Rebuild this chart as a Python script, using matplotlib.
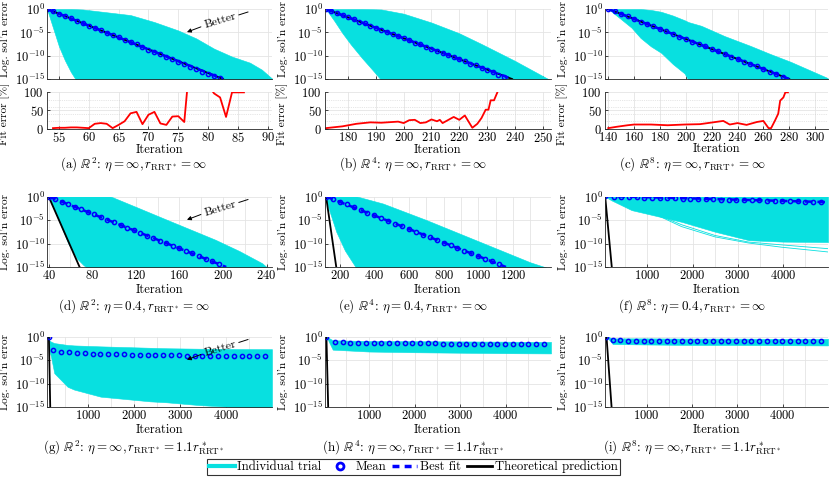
import numpy as np
import matplotlib
matplotlib.use("Agg")
import matplotlib.pyplot as plt
from matplotlib.lines import Line2D

plt.rcParams.update({
    "font.family": "serif",
    "font.serif": ["cmr10"],
    "mathtext.fontset": "cm",
    "axes.formatter.use_mathtext": True,
    "axes.unicode_minus": False,
})

CYAN = "#08E0E0"
W, H = 831, 479

# ---- data (log10 of solution error) ----
# row 1: eta = inf, r = inf
band_a_x = [53, 54, 55, 56, 57, 58, 59, 63, 67, 71, 75, 78, 81, 84, 87, 89, 90.7]
band_a_hi = [0, 0, 0, 0, 0, -0.05, -0.1, -0.7, -1.3, -2.8, -4.6, -6.3, -8.5, -10.2, -11.5, -13.0, -14.9]
band_a_lo = [0, -4.0, -8.0, -11.0, -13.5, -15.5, -16, -16, -16, -16, -16, -16, -16, -16, -16, -16, -16]
mean_a_x = [53, 54, 55, 56, 57, 58, 59, 60, 61, 62, 63, 64, 65, 66, 67, 68, 69, 70, 71, 72,
            73, 74, 75, 76, 77, 78, 79, 80, 81, 82]
mean_a = [0, -0.5, -1.0, -1.5, -2.0, -2.5, -3.0, -3.6, -4.1, -4.6, -5.1, -5.6, -6.1, -6.6, -7.1,
          -7.6, -8.1, -8.7, -9.2, -9.7, -10.2, -10.7, -11.3, -11.8, -12.4, -12.9, -13.5, -13.9, -14.3, -14.8]
fit_a_x = [53, 82.5]
fit_a = [0, -15]
theory_a_x = [53, 82.5]
theory_a = [0, -15]
ferr_a_x = [54, 55, 56, 57, 58, 59, 60, 61, 62, 63, 64, 65, 66, 67, 68, 69, 70, 71, 72, 73,
            74, 75, 76, 77, 78, 79, 80, 81, 82, 83, 84, 85, 86]
ferr_a = [1, 2, 2, 3, 3, 2, 1, 13, 15, 13, 1, 10, 20, 42, 46, 12, 38, 46, 14, 10,
          33, 34, 18, 200, np.nan, np.nan, 120, 97, 86, 32, 100, 100, 100]

band_b_x = [172, 175, 178, 181, 185, 189, 192, 200, 210, 220, 228, 240, 252, 253]
band_b_hi = [0, 0, 0, 0, 0, -0.05, -0.1, -1.0, -2.9, -5.2, -7.5, -11.1, -15.0, -15.3]
band_b_lo = [0, -2.5, -5.2, -7.6, -10.5, -13.2, -15.3, -16, -16, -16, -16, -16, -16, -16]
mean_b_x = [172, 174, 176, 178, 180, 182, 184, 186, 188, 190, 192, 194, 196, 198, 200, 202, 204,
            206, 208, 210, 212, 214, 216, 218, 220, 222, 224, 226, 228, 230, 232, 234, 236]
mean_b = [0, -0.4, -0.9, -1.3, -1.8, -2.2, -2.7, -3.1, -3.6, -4.0, -4.5, -4.9, -5.4, -5.8, -6.3,
          -6.7, -7.2, -7.6, -8.1, -8.5, -9.0, -9.4, -9.9, -10.3, -10.8, -11.2, -11.7, -12.1, -12.6,
          -13.1, -13.6, -14.1, -14.6]
fit_b_x = [172, 239]
fit_b = [0, -15]
theory_b_x = [172, 239]
theory_b = [0, -15]
ferr_b_x = [172, 178, 183, 188, 192, 198, 200, 202, 204, 206, 208, 210, 212, 213, 214, 218, 220,
            222, 224.7, 226.5, 228, 229.5, 230.5, 231.3, 232.5, 233.7]
ferr_b = [1, 6, 13, 17, 16, 19, 15, 23, 24, 15, 17, 25, 20, 24, 15, 32, 24, 36, 2, 13, 29, 52,
          52, 78, 78, 100]

band_c_x = [140, 150, 158, 165, 173, 181, 190, 199, 202, 212, 230, 250, 265, 281, 295, 309, 310]
band_c_hi = [0, 0, 0, 0, -0.2, -0.6, -1.4, -2.4, -2.8, -3.6, -5.8, -7.9, -9.6, -11.3, -13.0, -14.7, -14.9]
band_c_lo = [0, -2.2, -4.0, -6.2, -8.0, -9.4, -11.8, -13.8, -15.2, -16, -16, -16, -16, -16, -16, -16, -16]
mean_c_x = [140, 145, 150, 155, 160, 165, 170, 175, 180, 185, 190, 195, 200, 205, 210, 215, 220,
            225, 230, 235, 240, 245, 250, 255, 260, 265, 270, 275]
mean_c = [0, -0.5, -1.1, -1.6, -2.1, -2.7, -3.2, -3.7, -4.3, -4.8, -5.4, -5.9, -6.4, -7.0, -7.5,
          -8.0, -8.6, -9.1, -9.6, -10.2, -10.7, -11.3, -11.8, -12.3, -12.9, -13.4, -14.0, -14.5]
fit_c_x = [140, 280]
fit_c = [0, -15]
theory_c_x = [140, 280]
theory_c = [0, -15]
ferr_c_x = [140, 147, 155, 160, 173, 186, 199, 211, 219, 229, 234, 240, 247, 255, 260, 264, 266,
            269, 271.5, 273, 275.5, 277, 279]
ferr_c = [1, 5, 9, 11, 11, 9, 11, 12, 16, 21, 11, 15, 10, 18, 21, 1, 1, 22, 41, 77, 86, 100, 100]

# row 2: eta = 0.4
band_d_x = [40, 44, 50, 58, 66, 72, 76, 97, 120, 148, 170, 193, 215, 236, 240, 245]
band_d_hi = [0, 0, 0, 0, 0, 0, 0, 0, -2.2, -4.9, -7.0, -9.2, -11.6, -14.2, -15.0, -15.5]
band_d_lo = [0, -2.0, -5.5, -10.0, -13.2, -14.6, -15.3, -16, -16, -16, -16, -16, -16, -16, -16, -16]
mean_d_x = [40, 46, 52, 58, 64, 70, 76, 82, 88, 94, 100, 106, 112, 118, 124, 130, 136, 142, 148,
            154, 160, 166, 172, 178, 184, 190, 196]
mean_d = [0, -0.5, -1.1, -1.6, -2.2, -2.7, -3.3, -3.8, -4.4, -5.0, -5.5, -6.1, -6.6, -7.2, -7.7,
          -8.3, -8.8, -9.4, -9.9, -10.5, -11.0, -11.6, -12.1, -12.7, -13.2, -13.8, -14.3]
fit_d_x = [40, 203]
fit_d = [0, -15]
theory_d_x = [40, 68.4]
theory_d = [0, -15]

band_e_x = [115, 140, 180, 230, 300, 450, 700, 900, 1100, 1300, 1400, 1420]
band_e_hi = [0, 0, 0, 0, 0, -1.5, -5.0, -8.0, -11.0, -14.0, -15.2, -15.5]
band_e_lo = [0, -3.0, -7.5, -11.5, -15.5, -16, -16, -16, -16, -16, -16, -16]
mean_e_x = [120, 160, 200, 240, 280, 320, 360, 400, 440, 480, 520, 560, 600, 640, 680, 720, 760,
            800, 840, 880, 920, 960, 1000, 1040, 1080, 1120]
mean_e = [0, -0.6, -1.2, -1.7, -2.3, -2.9, -3.5, -4.0, -4.6, -5.2, -5.8, -6.3, -6.9, -7.5, -8.1,
          -8.7, -9.2, -9.8, -10.4, -11.0, -11.5, -12.1, -12.7, -13.3, -13.8, -14.4]
fit_e_x = [120, 1160]
fit_e = [0, -15]
theory_e_x = [120, 180]
theory_e = [0.3, -15]

long_x = [250, 420, 590, 760, 930, 1100, 1270, 1440, 1610, 1780, 1950, 2120, 2290, 2460, 2630,
          2800, 2970, 3140, 3310, 3480, 3650, 3820, 3990, 4160, 4330, 4500, 4670, 4840]

band_f_x = [60, 200, 650, 1760, 2500, 3250, 4000, 5000]
band_f_hi = [0.1, 0.1, 0.1, 0.1, 0.1, 0.1, 0.1, 0.1]
band_f_lo = [0, -0.8, -2.9, -5.4, -7.5, -9.3, -9.6, -9.7]
stray_f_x = [300, 730, 1755, 2500, 3244, 3985, 5000]
stray_f1 = [-0.5, -1.8, -6.4, -8.6, -9.9, -10.8, -11.8]
stray_f2 = [-0.5, -2.0, -6.0, -8.3, -9.7, -10.3, -11.1]
mean_f_x = [60] + long_x
mean_f = [0.1, -0.05, -0.1, -0.15, -0.2, -0.25, -0.3, -0.3, -0.35, -0.4, -0.45, -0.5, -0.55, -0.55,
          -0.6, -0.65, -0.7, -0.75, -0.8, -0.8, -0.85, -0.9, -0.95, -1.0, -1.0, -1.05, -1.1, -1.15, -1.2]
fit_f_x = [60, 5000]
fit_f = [0.1, -1.2]
theory_f_x = [60, 210]
theory_f = [0.4, -15]

# row 3: eta = inf, r = 1.1 r*
band_g_x = [150, 160, 197, 268, 557, 700, 1273, 2349, 2706, 3425, 4142, 4990]
band_g_hi = [0, -0.8, -1.1, -1.4, -1.8, -1.9, -2.1, -2.4, -2.5, -2.6, -2.65, -2.7]
band_g_lo = [0, -3.0, -4.3, -7.8, -10.7, -11.3, -12.8, -13.8, -14.0, -14.6, -15.0, -15.3]
mean_g_x = [150] + long_x
mean_g = [0, -2.8, -3.2, -3.4, -3.5, -3.6, -3.65, -3.7, -3.75, -3.8, -3.8, -3.85, -3.9, -3.9,
          -3.95, -4.0, -4.0, -4.0, -4.05, -4.1, -4.1, -4.1, -4.15, -4.15, -4.2, -4.2, -4.2, -4.25, -4.25]
theory_g_x = [150, 180]
theory_g = [0.4, -15]

band_h_x = [60, 200, 1000, 2000, 3000, 4000, 5000]
band_h_hi = [0, -0.8, -0.95, -1.0, -1.05, -1.1, -1.15]
band_h_lo = [0, -2.8, -3.2, -3.35, -3.45, -3.55, -3.6]
mean_h_x = [60] + long_x
mean_h = [0, -1.25, -1.27, -1.29, -1.3, -1.32, -1.34, -1.35, -1.37, -1.39, -1.4, -1.42, -1.44,
          -1.45, -1.47, -1.49, -1.5, -1.52, -1.54, -1.55, -1.57, -1.59, -1.6, -1.62, -1.64, -1.65,
          -1.67, -1.69, -1.7]
theory_h_x = [60, 100]
theory_h = [0.4, -15]

band_i_x = [110, 250, 1000, 2000, 3000, 4000, 5000]
band_i_hi = [0, -0.4, -0.4, -0.45, -0.45, -0.5, -0.5]
band_i_lo = [0, -1.6, -1.7, -1.8, -1.8, -1.85, -1.9]
mean_i_x = [110] + long_x
mean_i = [0, -0.85, -0.85, -0.86, -0.86, -0.87, -0.87, -0.87, -0.88, -0.88, -0.89, -0.89, -0.89,
          -0.9, -0.9, -0.9, -0.91, -0.91, -0.91, -0.92, -0.92, -0.92, -0.93, -0.93, -0.93, -0.94,
          -0.94, -0.95, -0.95]
theory_i_x = [110, 225]
theory_i = [0.4, -15]

captions = [
    r"(a) $\mathbb{R}^2$: $\eta = \infty, r_{\mathrm{RRT}^*} = \infty$",
    r"(b) $\mathbb{R}^4$: $\eta = \infty, r_{\mathrm{RRT}^*} = \infty$",
    r"(c) $\mathbb{R}^8$: $\eta = \infty, r_{\mathrm{RRT}^*} = \infty$",
    r"(d) $\mathbb{R}^2$: $\eta = 0.4, r_{\mathrm{RRT}^*} = \infty$",
    r"(e) $\mathbb{R}^4$: $\eta = 0.4, r_{\mathrm{RRT}^*} = \infty$",
    r"(f) $\mathbb{R}^8$: $\eta = 0.4, r_{\mathrm{RRT}^*} = \infty$",
    r"(g) $\mathbb{R}^2$: $\eta = \infty, r_{\mathrm{RRT}^*} = 1.1r^*_{\mathrm{RRT}^*}$",
    r"(h) $\mathbb{R}^4$: $\eta = \infty, r_{\mathrm{RRT}^*} = 1.1r^*_{\mathrm{RRT}^*}$",
    r"(i) $\mathbb{R}^8$: $\eta = \infty, r_{\mathrm{RRT}^*} = 1.1r^*_{\mathrm{RRT}^*}$",
]

# ---- layout (pixel boxes) ----
cols = [(47, 272), (325, 551), (605, 828)]
fig = plt.figure(figsize=(W / 100, H / 100), dpi=100)


def add_ax(col, y0, y1):
    x0, x1 = cols[col]
    return fig.add_axes([x0 / W, 1 - y1 / H, (x1 - x0) / W, (y1 - y0) / H])


def style(ax, xlim, xticks, minor=None):
    ax.set_xlim(*xlim)
    ax.set_xticks(xticks)
    if minor is not None:
        ax.set_xticks(minor, minor=True)
        ax.grid(True, which="minor", axis="x", color="#e4e4e4", lw=0.6)
    ax.grid(True, which="major", color="#e4e4e4", lw=0.6)
    ax.set_axisbelow(True)
    for s in ["top", "right"]:
        ax.spines[s].set_visible(False)
    for s in ["left", "bottom"]:
        ax.spines[s].set_color("#262626")
        ax.spines[s].set_linewidth(0.6)
    ax.tick_params(direction="in", length=2.5, width=0.5, labelsize=9, pad=1.5)
    ax.tick_params(which="minor", length=0)


def log_panel(ax, xlim, xticks, band, mean, fit=None, theory=None, minor=None, xlabel=True):
    bx, bhi, blo = band
    ax.fill_between(bx, 10.0 ** np.array(blo), 10.0 ** np.array(bhi),
                    color=CYAN, lw=0.4, ec=CYAN)
    if theory is not None:
        ax.plot(theory[0], 10.0 ** np.array(theory[1]), color="black", lw=1.3)
    if fit is not None:
        ax.plot(fit[0], 10.0 ** np.array(fit[1]), color="blue", lw=1.8, dashes=(3, 2))
    ax.plot(mean[0], 10.0 ** np.array(mean[1]), ls="none", marker="o", ms=3.0,
            mfc="none", mec="blue", mew=1.1)
    ax.set_yscale("log")
    ax.set_ylim(1e-15, 1e0)
    ax.set_yticks([1e0, 1e-5, 1e-10, 1e-15],
                  labels=[r"$10^{0}$", r"$10^{-5}$", r"$10^{-10}$", r"$10^{-15}$"])
    ax.minorticks_off()
    style(ax, xlim, xticks, minor)
    ax.set_ylabel("Log. sol'n error", fontsize=8.2)
    ax.yaxis.set_label_coords(-0.165, 0.57 if not xlabel else 0.5)
    if xlabel:
        ax.set_xlabel("Iteration", fontsize=9, labelpad=1)
    else:
        ax.tick_params(labelbottom=False)


def err_panel(ax, xlim, xticks, x, y):
    ax.plot(x, y, color="red", lw=1.3)
    ax.set_ylim(0, 101)
    ax.set_yticks([0, 50, 100])
    ax.set_yticks([20, 40, 60, 80], minor=True)
    ax.grid(True, which="minor", axis="y", color="#cfcfcf", lw=0.5, ls=":")
    style(ax, xlim, xticks)
    ax.tick_params(axis="y", pad=2.5)
    ax.set_ylabel("Fit error [%]", fontsize=8.2)
    ax.yaxis.set_label_coords(-0.165, 0.4)
    ax.set_xlabel("Iteration", fontsize=9, labelpad=-0.5)


def better(ax):
    ax.annotate("", xy=(0.622, 0.67), xytext=(0.684, 0.745), xycoords="axes fraction",
                arrowprops=dict(arrowstyle="-|>", color="black", lw=0.7,
                                mutation_scale=6, shrinkA=0, shrinkB=0))
    ax.plot([0.853, 0.893], [0.916, 0.957], transform=ax.transAxes, color="black", lw=0.7)
    ax.text(0.769, 0.83, "Better", transform=ax.transAxes, rotation=17,
            ha="center", va="center", fontsize=8.5)


# row 1
panels1 = [
    ((53, 90.7), [55, 60, 65, 70, 75, 80, 85, 90],
     (band_a_x, band_a_hi, band_a_lo), (mean_a_x, mean_a), (fit_a_x, fit_a),
     (theory_a_x, theory_a), (ferr_a_x, ferr_a)),
    ((171.7, 253), [180, 190, 200, 210, 220, 230, 240, 250],
     (band_b_x, band_b_hi, band_b_lo), (mean_b_x, mean_b), (fit_b_x, fit_b),
     (theory_b_x, theory_b), (ferr_b_x, ferr_b)),
    ((137.5, 310), [140, 160, 180, 200, 220, 240, 260, 280, 300],
     (band_c_x, band_c_hi, band_c_lo), (mean_c_x, mean_c), (fit_c_x, fit_c),
     (theory_c_x, theory_c), (ferr_c_x, ferr_c)),
]
for c, (xl, xt, band, mean, fit, th, ferr) in enumerate(panels1):
    ax = add_ax(c, 9, 79)
    log_panel(ax, xl, xt, band, mean, fit, th, xlabel=False)
    if c == 0:
        better(ax)
    ax2 = add_ax(c, 92, 128.5)
    err_panel(ax2, xl, xt, *ferr)

# row 2
big_ticks = [1000, 2000, 3000, 4000]
big_minor = [500, 1500, 2500, 3500, 4500]
ax = add_ax(0, 196.5, 267)
log_panel(ax, (38.5, 245), [40, 80, 120, 160, 200, 240], (band_d_x, band_d_hi, band_d_lo),
          (mean_d_x, mean_d), (fit_d_x, fit_d), (theory_d_x, theory_d),
          minor=[60, 100, 140, 180, 220])
better(ax)
ax = add_ax(1, 196.5, 267)
log_panel(ax, (115, 1420), [200, 400, 600, 800, 1000, 1200], (band_e_x, band_e_hi, band_e_lo),
          (mean_e_x, mean_e), (fit_e_x, fit_e), (theory_e_x, theory_e),
          minor=[300, 500, 700, 900, 1100, 1300])
ax = add_ax(2, 196.5, 267)
for s in (stray_f1, stray_f2):
    ax.plot(stray_f_x, 10.0 ** np.array(s), color=CYAN, lw=0.6)
log_panel(ax, (60, 5000), big_ticks, (band_f_x, band_f_hi, band_f_lo),
          (mean_f_x, mean_f), (fit_f_x, fit_f), (theory_f_x, theory_f), minor=big_minor)

# row 3
ax = add_ax(0, 336.5, 407)
log_panel(ax, (110, 4990), big_ticks, (band_g_x, band_g_hi, band_g_lo),
          (mean_g_x, mean_g), None, (theory_g_x, theory_g), minor=big_minor)
better(ax)
ax = add_ax(1, 336.5, 407)
log_panel(ax, (30, 5000), big_ticks, (band_h_x, band_h_hi, band_h_lo),
          (mean_h_x, mean_h), None, (theory_h_x, theory_h), minor=big_minor)
ax = add_ax(2, 336.5, 407)
log_panel(ax, (80, 5000), big_ticks, (band_i_x, band_i_hi, band_i_lo),
          (mean_i_x, mean_i), None, (theory_i_x, theory_i), minor=big_minor)

# captions
cap_x = [134, 413, 692]
cap_y = [165, 307, 448]
for k, cap in enumerate(captions):
    fig.text(cap_x[k % 3] / W, 1 - cap_y[k // 3] / H, cap, ha="center", va="center", fontsize=9.4)

handles = [
    Line2D([], [], color=CYAN, lw=3),
    Line2D([], [], ls="none", marker="o", ms=5, mfc="white", mec="blue", mew=2),
    Line2D([], [], color="blue", lw=2.5, dashes=(2, 1.5)),
    Line2D([], [], color="black", lw=2),
]
leg = fig.legend(handles, ["Individual trial", "Mean", "Best fit", "Theoretical prediction"],
                 loc="center", bbox_to_anchor=(413.5 / W, 1 - 467 / H), ncol=4,
                 fontsize=9.2, frameon=True, fancybox=False, edgecolor="black",
                 handlelength=2.0, handletextpad=0.2, columnspacing=0.45, borderpad=0.15,
                 borderaxespad=0)
leg.get_frame().set_linewidth(0.8)

fig.savefig("out.png", dpi=100)
